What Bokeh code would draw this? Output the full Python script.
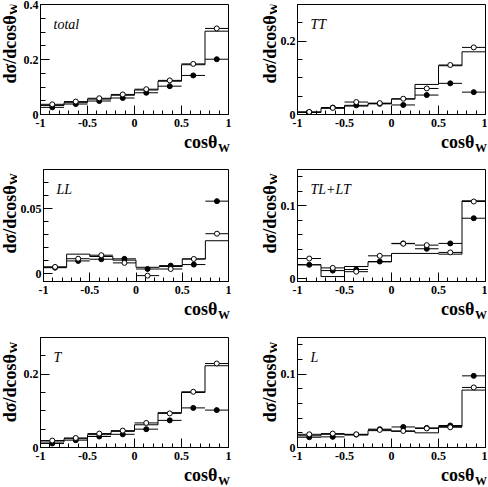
import numpy as np
from bokeh.plotting import figure
from bokeh.layouts import column, row
from bokeh.models import FixedTicker, NumeralTickFormatter, Label, Range1d
from bokeh.embed import file_html
from bokeh.resources import INLINE

# ---------------- data ----------------
bin_edges = [-1.0, -0.75, -0.5, -0.25, 0.0, 0.25, 0.5, 0.75, 1.0]
x_ticks = [-1, -0.5, 0, 0.5, 1]

panel_names = ["total", "TT", "LL", "TL+LT", "T", "L"]

total_hist = [0.033, 0.043, 0.056, 0.070, 0.089, 0.121, 0.181, 0.303]
total_open = [0.037, 0.047, 0.059, 0.073, 0.092, 0.124, 0.184, 0.313]
total_filled = [0.026, 0.038, 0.049, 0.060, 0.079, 0.103, 0.142, 0.201]

tt_hist = [0.006, 0.017, 0.023, 0.030, 0.042, 0.082, 0.133, 0.171]
tt_open = [0.007, 0.018, 0.034, 0.031, 0.043, 0.071, 0.135, 0.183]
tt_filled = [0.006, 0.019, 0.025, 0.029, 0.026, 0.053, 0.085, 0.061]

ll_hist = [0.0050, 0.0150, 0.0132, 0.0104, 0.0049, 0.0055, 0.0113, 0.0253]
ll_open = [0.0052, 0.0115, 0.0142, 0.0083, -0.0015, 0.0036, 0.0113, 0.0307]
ll_filled = [0.0046, 0.0098, 0.0111, 0.0114, 0.0036, 0.0062, 0.0070, 0.0557]

tl_hist = [0.019, 0.0028, 0.0166, 0.023, 0.0346, 0.0346, 0.0336, 0.107]
tl_open = [0.0276, 0.0147, 0.0095, 0.0313, 0.048, 0.046, 0.036, 0.106]
tl_filled = [0.019, 0.011, 0.0125, 0.0235, 0.0484, 0.041, 0.0484, 0.083]

t_hist = [0.015, 0.024, 0.035, 0.044, 0.062, 0.095, 0.150, 0.223]
t_open = [0.019, 0.026, 0.038, 0.046, 0.067, 0.093, 0.152, 0.229]
t_filled = [0.011, 0.020, 0.030, 0.036, 0.050, 0.074, 0.108, 0.102]

l_hist = [0.016, 0.018, 0.017, 0.023, 0.022, 0.020, 0.0285, 0.0783]
l_open = [0.018, 0.019, 0.018, 0.024, 0.0226, 0.026, 0.0276, 0.0819]
l_filled = [0.014, 0.0145, 0.0176, 0.025, 0.028, 0.0267, 0.030, 0.0977]

y_ranges = [(0.0, 0.4), (0.0, 0.3), (-0.006, 0.08), (-0.004, 0.15), (0.0, 0.3), (0.0, 0.15)]
y_major = [[0, 0.2, 0.4], [0, 0.2], [0, 0.05], [0, 0.1], [0, 0.2], [0, 0.1]]
y_minor_step = [0.05, 0.05, 0.01, 0.02, 0.05, 0.02]

series = [
    (total_hist, total_open, total_filled),
    (tt_hist, tt_open, tt_filled),
    (ll_hist, ll_open, ll_filled),
    (tl_hist, tl_open, tl_filled),
    (t_hist, t_open, t_filled),
    (l_hist, l_open, l_filled),
]

y_title = "dσ/dcosθ"
x_title = "cosθ"
sub_title = "W"

# ---------------- layout geometry (pixels) ----------------
SERIF = "Liberation Serif"
BOTTOM_B = 18
col_geom = [dict(label_w=17, left=23, frame=188, right=28),
            dict(label_w=21, left=20, frame=188, right=2)]
TOTAL_W = sum(c["label_w"] + c["left"] + c["frame"] + c["right"] for c in col_geom)
row_geom = [dict(top=4, frame=110, strip=26),
            dict(top=11, frame=112, strip=26),
            dict(top=12, frame=110, strip=21)]
X_TITLE_DROP = 33   # glyph baseline of x title below the frame
BIG_SHIFT = 5.3     # renderer places alphabetic baseline this far below the anchor (18px)
SMALL_SHIFT = 3.5   # same for the 12px subscript

lo = bin_edges[:-1]
hi = bin_edges[1:]
centers = [(a + b) / 2 for a, b in zip(lo, hi)]


def helper_fig(w, h):
    f = figure(width=w, height=h, x_range=Range1d(0, w), y_range=Range1d(0, h),
               output_backend="svg", toolbar_location=None, min_border=0,
               x_axis_location=None, y_axis_location=None)
    f.outline_line_color = None
    f.background_fill_color = "white"
    f.border_fill_color = "white"
    for g in f.grid:
        g.visible = False
    return f


def style_axis(ax, ticker, standoff):
    ax.ticker = ticker
    ax.formatter = NumeralTickFormatter(format="0.[00]")
    ax.major_tick_in = 9
    ax.major_tick_out = 0
    ax.minor_tick_out = 0
    ax.major_label_standoff = standoff
    ax.major_label_text_font = SERIF
    ax.major_label_text_font_style = "bold"
    ax.major_label_text_font_size = "12px"
    ax.major_label_text_color = "black"
    ax.axis_line_color = "black"
    ax.major_tick_line_color = "black"
    ax.minor_tick_line_color = "black"


def make_panel(i):
    cg = col_geom[i % 2]
    rg = row_geom[i // 2]
    ymin, ymax = y_ranges[i]
    xmin, xmax = bin_edges[0], bin_edges[-1]
    p = figure(width=cg["left"] + cg["frame"] + cg["right"],
               height=rg["top"] + rg["frame"] + BOTTOM_B,
               x_range=Range1d(xmin, xmax), y_range=Range1d(ymin, ymax),
               output_backend="svg", toolbar_location=None,
               min_border_left=cg["left"], min_border_right=cg["right"],
               min_border_top=rg["top"], min_border_bottom=BOTTOM_B)
    p.xgrid.visible = False
    p.ygrid.visible = False
    p.outline_line_color = "black"
    p.outline_line_width = 1
    p.outline_line_alpha = 1
    p.background_fill_color = "white"
    p.border_fill_color = "white"

    xminor = [round(v, 2) for v in np.arange(xmin, xmax + 1e-9, 0.1)]
    style_axis(p.xaxis[0], FixedTicker(ticks=x_ticks, minor_ticks=xminor), 4)
    p.xaxis[0].minor_tick_in = 4

    yminor = [round(v, 4) for v in np.arange(0, ymax + 1e-9, y_minor_step[i])]
    style_axis(p.yaxis[0], FixedTicker(ticks=y_major[i], minor_ticks=yminor), 2)
    p.yaxis[0].minor_tick_in = 5

    hist, opn, fil = series[i]
    p.step(x=bin_edges, y=list(hist) + [hist[-1]], mode="after",
           line_color="black", line_width=1)
    p.segment(x0=lo, x1=hi, y0=fil, y1=fil, line_color="black", line_width=1)
    p.segment(x0=lo, x1=hi, y0=opn, y1=opn, line_color="black", line_width=1)
    p.scatter(x=centers, y=fil, marker="circle", size=5,
              fill_color="black", line_color="black")
    p.scatter(x=centers, y=opn, marker="circle", size=5,
              fill_color="white", line_color="black", line_width=1)

    p.add_layout(Label(x=xmin, y=ymax, x_offset=13, y_offset=-12, text=panel_names[i],
                       text_font=SERIF, text_font_style="italic", text_font_size="14px",
                       text_baseline="top", text_align="left", text_color="black"))
    return p


def make_ylabel(i):
    cg = col_geom[i % 2]
    rg = row_geom[i // 2]
    w = cg["label_w"]
    h = rg["top"] + rg["frame"] + BOTTOM_B
    f = helper_fig(w, h)
    ay = h - rg["top"] - 9
    f.add_layout(Label(x=w - 2.2 - BIG_SHIFT, y=ay, angle=np.pi / 2, text=y_title,
                       text_font=SERIF, text_font_style="bold", text_font_size="18px",
                       text_align="right", text_baseline="alphabetic", text_color="black"))
    f.add_layout(Label(x=w - SMALL_SHIFT, y=ay + 0.5, angle=np.pi / 2, text=sub_title,
                       text_font=SERIF, text_font_style="bold", text_font_size="12px",
                       text_align="left", text_baseline="alphabetic", text_color="black"))
    return f


def make_strip(r):
    rg = row_geom[r]
    h = rg["strip"]
    f = helper_fig(TOTAL_W, h)
    base = h - (X_TITLE_DROP - BOTTOM_B)
    x0 = 0
    for cg in col_geom:
        frame_right = x0 + cg["label_w"] + cg["left"] + cg["frame"]
        f.add_layout(Label(x=frame_right - 11, y=base + BIG_SHIFT, text=x_title,
                           text_font=SERIF, text_font_style="bold", text_font_size="18px",
                           text_align="right", text_baseline="alphabetic", text_color="black"))
        f.add_layout(Label(x=frame_right - 10.5, y=base - 4 + SMALL_SHIFT, text=sub_title,
                           text_font=SERIF, text_font_style="bold", text_font_size="12px",
                           text_align="left", text_baseline="alphabetic", text_color="black"))
        x0 = frame_right + cg["right"]
    return f


items = []
for r in range(3):
    cells = []
    for c in range(2):
        i = 2 * r + c
        cells += [make_ylabel(i), make_panel(i)]
    items.append(row(*cells, spacing=0))
    items.append(make_strip(r))

layout = column(*items, spacing=0)

open("out.html", "w").write(file_html(layout, INLINE))
